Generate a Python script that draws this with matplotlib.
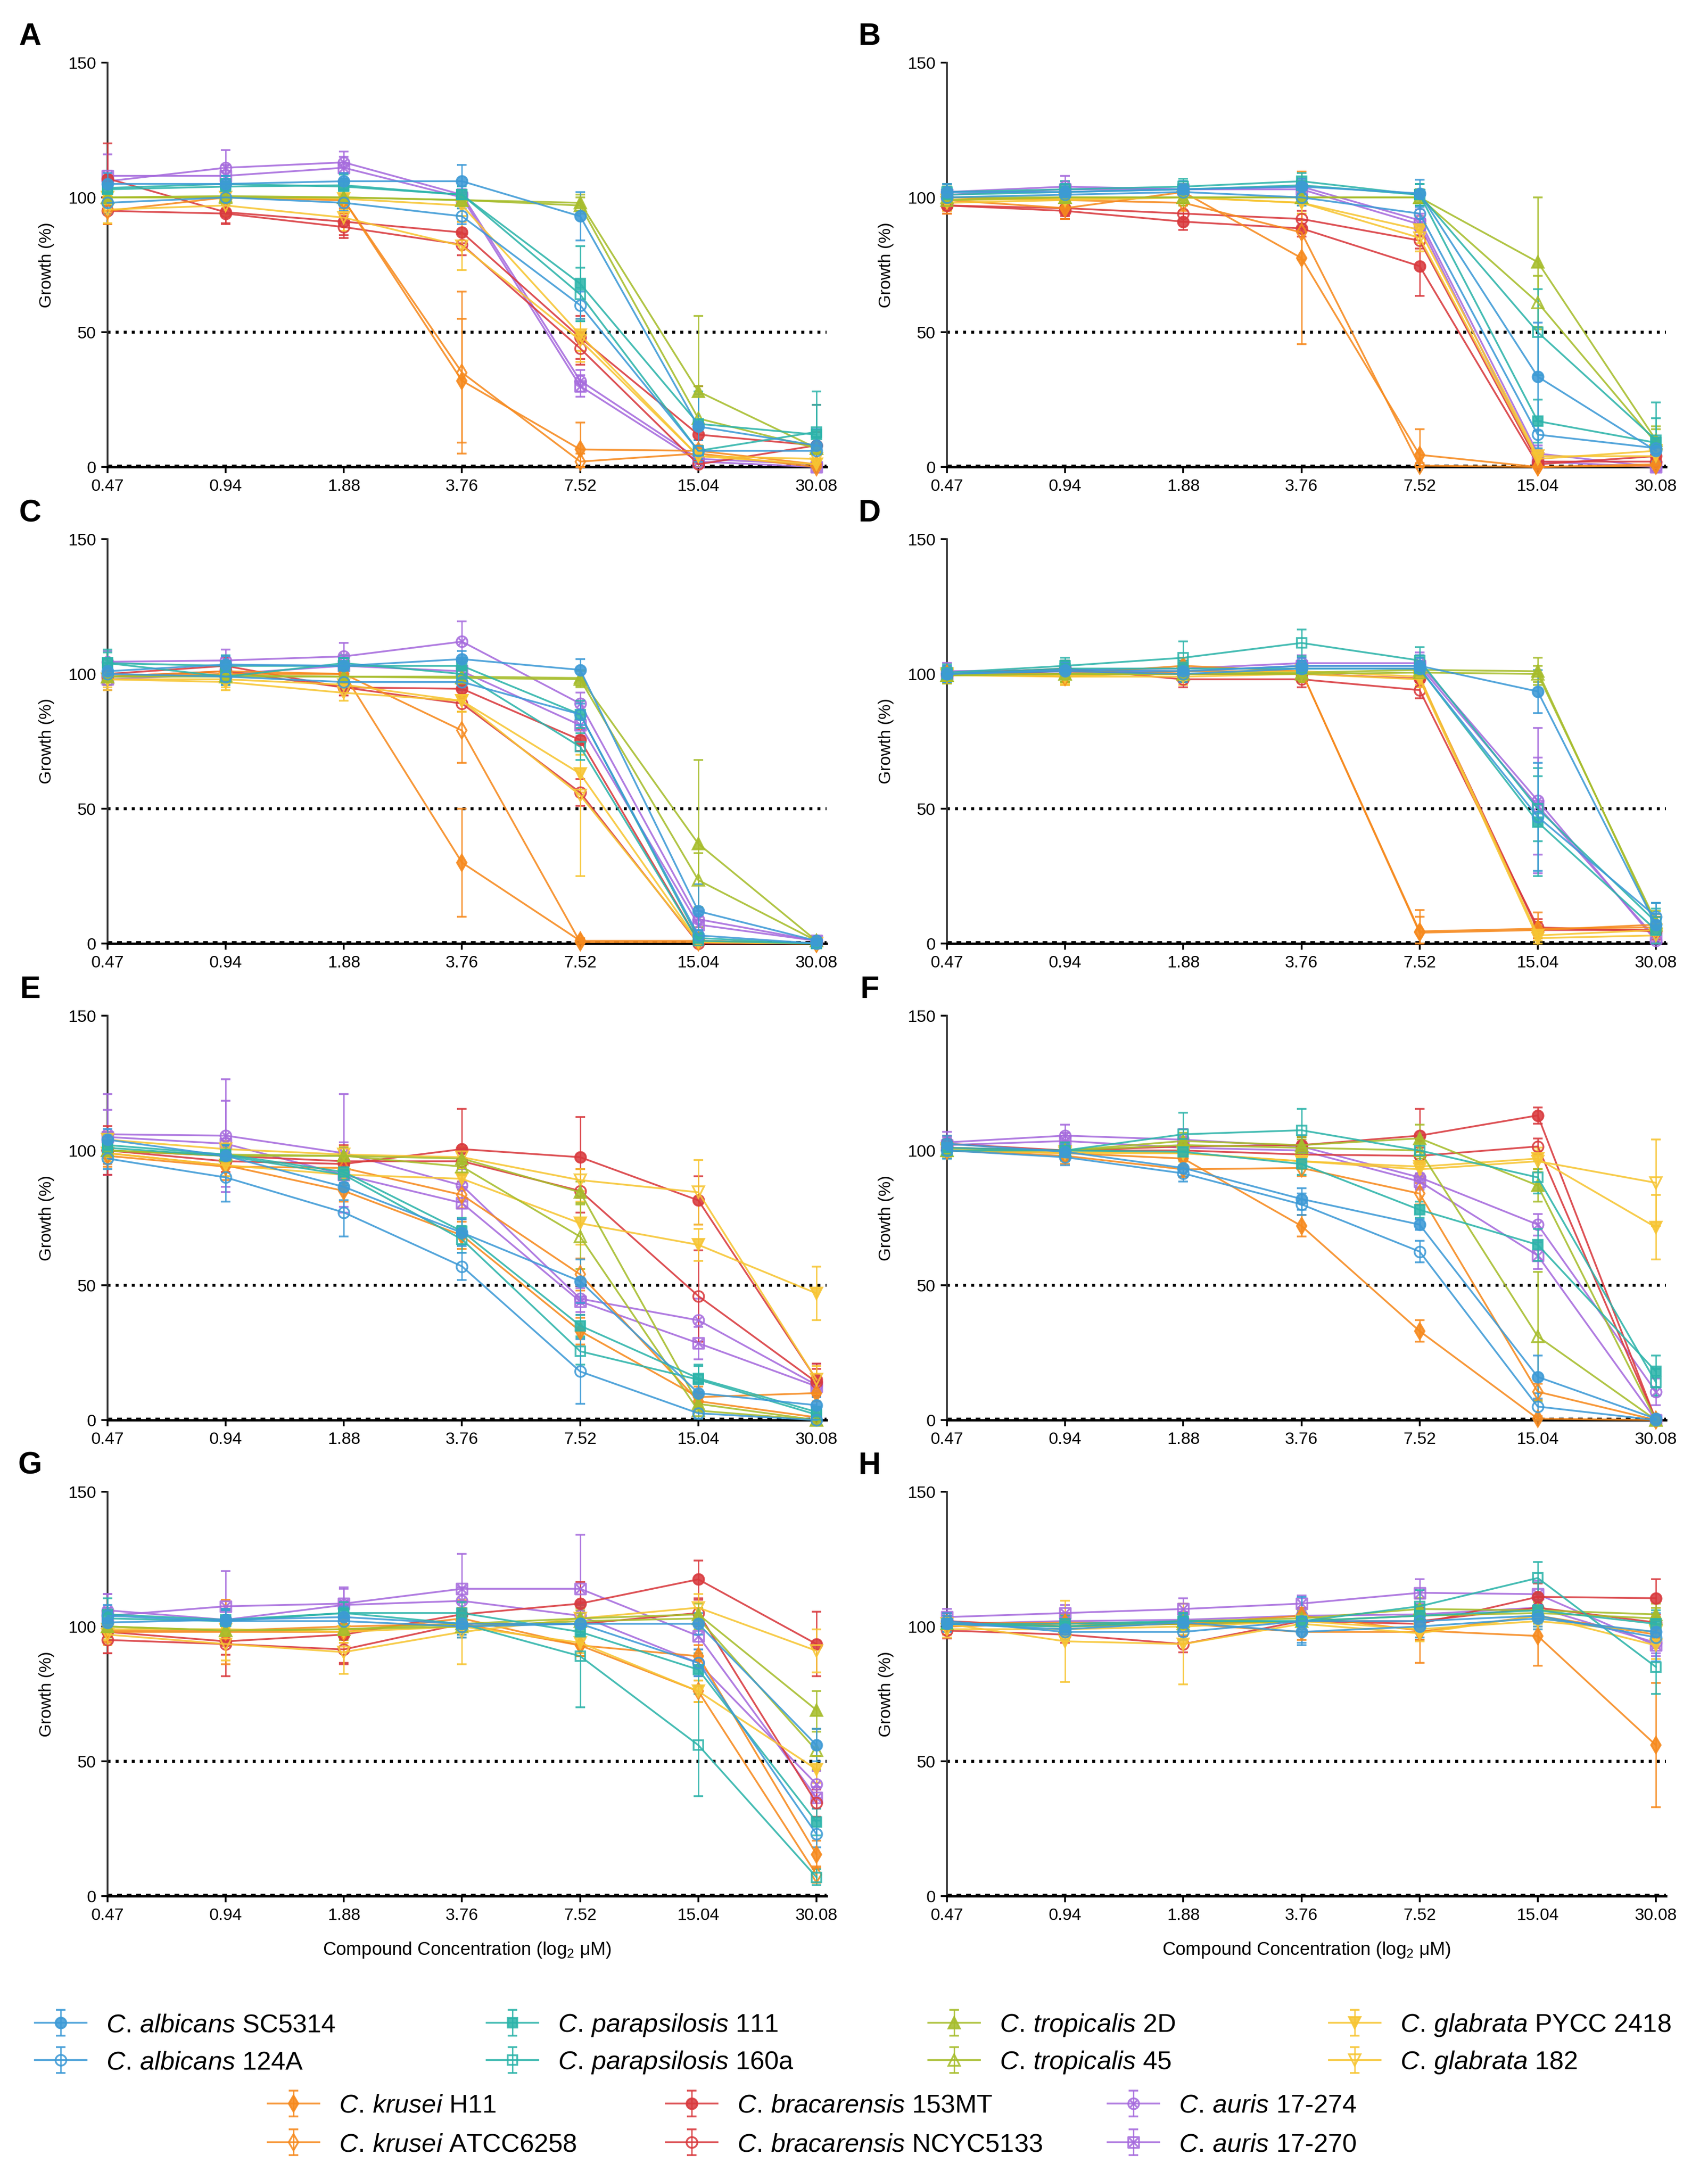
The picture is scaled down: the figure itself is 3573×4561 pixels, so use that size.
import numpy as np
import matplotlib
matplotlib.use('Agg')
import matplotlib.pyplot as plt
from matplotlib.path import Path

# ---------------- data ----------------
conc_labels = ['0.47', '0.94', '1.88', '3.76', '7.52', '15.04', '30.08']
strain_keys = ['SC5314', '124A', 'P111', 'P160a', 'T2D', 'T45', 'G2418', 'G182',
               'KH11', 'KATCC', 'B153MT', 'BNCYC', 'AU274', 'AU270']
species = ['albicans', 'albicans', 'parapsilosis', 'parapsilosis', 'tropicalis', 'tropicalis',
           'glabrata', 'glabrata', 'krusei', 'krusei', 'bracarensis', 'bracarensis', 'auris', 'auris']
strain_ids = ['SC5314', '124A', '111', '160a', '2D', '45', 'PYCC 2418', '182',
              'H11', 'ATCC6258', '153MT', 'NCYC5133', '17-274', '17-270']

growth_A = {
    'SC5314': [105, 105, 106, 106, 93, 15, 8],
    '124A': [98, 100, 98, 93, 60, 6, 6],
    'P111': [103, 104, 104.5, 101, 68, 16, 12],
    'P160a': [103.5, 105, 104, 101, 64, 6, 13],
    'T2D': [100, 100, 100, 99, 98, 28, 7],
    'T45': [100, 100.5, 100, 99, 97, 18, 7],
    'G2418': [100, 100, 99.5, 97, 49, 4, 1],
    'G182': [95.5, 97, 92.5, 82, 47, 4, 3],
    'KH11': [100, 100, 99, 32, 6.5, 6, 1],
    'KATCC': [95, 100, 99, 35, 2, 5, 0],
    'B153MT': [107, 94.5, 91, 87, 48, 12, 8],
    'BNCYC': [95, 94, 89, 82.5, 44, 1, 8],
    'AU274': [106, 111, 113, 101, 32, 3, 1],
    'AU270': [108, 108, 111, 100, 30, 2, 0],
}
err_A = {
    'SC5314': [4, 3, 3, 6, 9, 12, 6],
    '124A': [4, 3, 3, 3, 5, 4, 5],
    'P111': [5, 3, 4, 3, 14, 12, 16],
    'P160a': [4, 3, 3, 3, 10, 4, 10],
    'T2D': [3, 3, 3, 3, 3, 28, 4],
    'T45': [3, 3, 3, 3, 3, 12, 4],
    'G2418': [5, 4, 4, 4, 6, 3, 2],
    'G182': [5, 4, 5, 9, 8, 3, 2],
    'KH11': [5, 4, 5, 23, 10, 4, 1],
    'KATCC': [5, 4, 5, 30, 3, 3, 1],
    'B153MT': [13, 4, 5, 4, 8, 18, 15],
    'BNCYC': [5, 4, 4, 4, 6, 2, 5],
    'AU274': [4, 6.5, 4, 3, 4, 2, 1],
    'AU270': [8, 4, 4, 3, 4, 2, 1],
}

growth_B = {
    'SC5314': [102, 102, 103, 104, 101.5, 33.5, 6],
    '124A': [100, 101, 102, 100, 94, 12, 7],
    'P111': [101, 102, 103, 104.5, 101, 17, 9],
    'P160a': [102, 103, 104, 106, 101, 50, 10],
    'T2D': [100, 100, 100, 100, 100, 76, 10],
    'T45': [99, 100, 100, 100, 100, 61, 9],
    'G2418': [99, 99.5, 100, 98, 88, 4, 4],
    'G182': [98, 99, 100, 98, 85, 3, 6],
    'KH11': [99, 96, 102, 77.5, 4.5, 0, 0.5],
    'KATCC': [100, 99, 98, 87, 0.5, 0, 1],
    'B153MT': [97, 95, 91, 88.5, 74.5, 1, 4],
    'BNCYC': [97, 96, 94, 92, 84, 2, 2],
    'AU274': [102, 104, 103, 104, 91.5, 5, 0],
    'AU270': [101, 103, 103, 103, 90, 2, 0],
}
err_B = {
    'SC5314': [3, 3, 3, 3, 5, 20, 4],
    '124A': [3, 3, 3, 3, 4, 5, 4],
    'P111': [3, 3, 3, 3, 4, 8, 15],
    'P160a': [3, 3, 3, 3, 4, 16, 8],
    'T2D': [3, 3, 3, 3, 3, 24, 5],
    'T45': [3, 3, 3, 3, 3, 10, 5],
    'G2418': [3, 3, 3, 4, 5, 3, 3],
    'G182': [3, 3, 3, 4, 5, 3, 3],
    'KH11': [5, 4, 3, 32, 9.5, 1, 1],
    'KATCC': [5, 4, 3, 10, 1, 1, 1],
    'B153MT': [3, 3, 3, 3, 11, 2, 3],
    'BNCYC': [3, 3, 3, 3, 3, 2, 2],
    'AU274': [3, 4, 3, 3, 4, 3, 1],
    'AU270': [3, 3, 3, 3, 4, 2, 1],
}

growth_C = {
    'SC5314': [101, 103.5, 103, 105.5, 101.5, 12, 1],
    '124A': [100, 99, 97, 97, 85, 3, 0],
    'P111': [104, 103, 103, 103, 85, 2, 0],
    'P160a': [104, 99, 104, 100, 73, 1, 0],
    'T2D': [99, 99.5, 99, 99, 98.5, 37, 1],
    'T45': [99, 99, 99, 98.5, 98, 23.5, 1],
    'G2418': [98, 98, 96, 90, 63, 0.5, 0],
    'G182': [98, 97, 93, 90, 55, 0.5, 0],
    'KH11': [99, 100, 100, 30, 1, 1, 0],
    'KATCC': [99, 101, 100, 79, 0.5, 0.5, 0],
    'B153MT': [100, 103, 95, 94.5, 75.5, 1, 0],
    'BNCYC': [99, 101, 95, 89, 56, 0, 0],
    'AU274': [104.5, 105, 106.5, 112, 89, 9, 1],
    'AU270': [98, 100, 103, 101, 81, 7, 1],
}
err_C = {
    'SC5314': [3, 3, 3, 3, 4, 10, 1],
    '124A': [3, 3, 3, 3, 4, 2, 0.5],
    'P111': [5, 4, 3, 3, 5, 2, 0.5],
    'P160a': [4, 3, 3, 3, 5, 2, 0.5],
    'T2D': [3, 3, 3, 3, 3, 31, 1],
    'T45': [3, 3, 3, 3, 3, 10, 1],
    'G2418': [3, 3, 3, 4, 7, 1, 0.5],
    'G182': [4, 3, 3, 4, 30, 1, 0.5],
    'KH11': [3, 3, 3, 20, 1, 1, 0.5],
    'KATCC': [3, 3, 3, 12, 1, 1, 0.5],
    'B153MT': [3, 3, 3, 3, 4, 1, 0.5],
    'BNCYC': [3, 3, 3, 3, 5, 1, 0.5],
    'AU274': [4, 4, 5, 7.5, 4, 3, 1],
    'AU270': [4, 3, 3, 3, 4, 3, 1],
}

growth_D = {
    'SC5314': [100, 101.5, 101, 103, 103, 93.5, 7],
    '124A': [100, 101, 100, 102, 102, 47, 10],
    'P111': [100, 102, 102, 102, 102, 45, 5],
    'P160a': [100.5, 103, 106, 111.5, 105, 50, 8],
    'T2D': [99.5, 100, 100, 100.5, 101.5, 101, 7],
    'T45': [99.5, 100, 100, 100, 100.5, 100, 8],
    'G2418': [100, 99.5, 100, 101, 99, 3, 5],
    'G182': [99.5, 99, 99, 100, 98, 2, 3],
    'KH11': [100, 100, 103, 101, 4.5, 5.5, 6],
    'KATCC': [100, 99, 101, 101, 4, 5, 7],
    'B153MT': [99.5, 101, 100, 100, 98.3, 5, 5],
    'BNCYC': [100, 102, 98, 98, 94, 6, 4.5],
    'AU274': [101, 101.5, 102, 104, 104, 53, 1],
    'AU270': [100, 101, 101, 103, 103, 51, 2],
}
err_D = {
    'SC5314': [3, 3, 3, 3, 4, 8, 4],
    '124A': [3, 3, 3, 3, 4, 20, 5],
    'P111': [3, 3, 3, 3, 4, 20, 10],
    'P160a': [3, 3, 6, 5, 5, 12, 5],
    'T2D': [3, 3, 3, 3, 3, 5, 4],
    'T45': [3, 3, 3, 3, 3, 3, 4],
    'G2418': [3, 3, 3, 3, 3, 2, 3],
    'G182': [3, 3, 3, 3, 3, 2, 3],
    'KH11': [3, 3, 3, 3, 8, 6, 4],
    'KATCC': [3, 3, 3, 3, 6, 3, 3],
    'B153MT': [3, 3, 3, 3, 3, 3, 5],
    'BNCYC': [3, 3, 3, 3, 3, 3, 3],
    'AU274': [3, 3, 3, 3, 4, 27, 2],
    'AU270': [3, 3, 3, 3, 4, 18, 2],
}

growth_E = {
    'SC5314': [104, 98, 86.5, 69.5, 51.5, 10, 5.5],
    '124A': [97, 90, 77, 57, 18, 2.5, 0],
    'P111': [102, 98.5, 92, 70, 35, 15.5, 3],
    'P160a': [101, 98, 91, 67, 25.5, 15, 2],
    'T2D': [100, 98, 98, 97, 84.5, 6, 0],
    'T45': [100, 98.5, 98, 94, 68, 3.5, 0],
    'G2418': [99, 94.5, 91, 89.5, 73, 65, 47],
    'G182': [104, 100.5, 98.5, 97.5, 89, 84.5, 15],
    'KH11': [99, 94.5, 85, 68.5, 33, 8.5, 10],
    'KATCC': [98, 94, 93.5, 83.5, 54, 7, 1],
    'B153MT': [100, 96, 95, 100.5, 97.5, 81.5, 15],
    'BNCYC': [100, 98, 96, 96, 85, 46, 14],
    'AU274': [106, 105.5, 99, 87, 45, 37, 13],
    'AU270': [105, 102.5, 91, 80.5, 44, 28.5, 12.5],
}
err_E = {
    'SC5314': [4, 4, 5, 5, 8, 4, 3],
    '124A': [4, 9, 9, 5, 12, 2, 1],
    'P111': [4, 4, 4, 5, 4, 5, 2],
    'P160a': [4, 4, 4, 5, 5, 5, 2],
    'T2D': [3, 3, 3, 3, 4, 3, 1],
    'T45': [3, 3, 3, 3, 12, 3, 1],
    'G2418': [3, 4, 4, 4, 8, 6, 10],
    'G182': [3, 3, 3, 4, 4, 12, 5],
    'KH11': [4, 4, 4, 5, 5, 4, 3],
    'KATCC': [4, 5, 4, 5, 6, 3, 1],
    'B153MT': [9, 4, 4, 15, 15, 9, 6],
    'BNCYC': [4, 4, 6, 5, 8, 17, 5],
    'AU274': [15, 21, 22, 6, 5, 8, 8],
    'AU270': [10, 16, 12, 6, 5, 6, 4],
}

growth_F = {
    'SC5314': [102.5, 99.5, 93.5, 82, 72.5, 16, 0.5],
    '124A': [100, 97.5, 91.5, 80, 62.5, 5, 0],
    'P111': [101, 100, 99.5, 95, 78, 65, 18],
    'P160a': [100, 100, 106, 107.5, 100, 90, 14],
    'T2D': [100, 100, 103.5, 102, 104.5, 87, 0],
    'T45': [100, 100, 102, 101, 100, 31, 0],
    'G2418': [100.5, 99.5, 99, 96, 94, 97, 71.5],
    'G182': [100, 99, 99, 96, 93, 96, 88],
    'KH11': [100, 99, 97, 72, 33, 0.5, 0],
    'KATCC': [100, 98, 93, 93.5, 84, 10.5, 0],
    'B153MT': [102.5, 100, 101.5, 102, 105.5, 113, 0],
    'BNCYC': [101, 100, 100, 98.5, 98, 101.5, 0],
    'AU274': [103, 105.5, 104, 101.5, 90, 72.5, 10.5],
    'AU270': [102, 103.5, 101, 100, 88.5, 61, 0],
}
err_F = {
    'SC5314': [3, 3, 3, 4, 2, 8, 1],
    '124A': [3, 3, 3, 4, 4, 5, 1],
    'P111': [3, 3, 3, 4, 3, 6, 6],
    'P160a': [3, 3, 8, 8, 4, 6, 5],
    'T2D': [3, 3, 3, 3, 5, 6, 1],
    'T45': [3, 3, 3, 3, 3, 24, 1],
    'G2418': [3, 3, 3, 3, 3, 4, 12],
    'G182': [3, 3, 3, 3, 3, 4, 16],
    'KH11': [3, 3, 3, 4, 4, 1, 0.5],
    'KATCC': [3, 3, 3, 3, 4, 3, 0.5],
    'B153MT': [3, 3, 3, 3, 10, 3, 1],
    'BNCYC': [3, 3, 3, 3, 3, 3, 1],
    'AU274': [4, 4, 4, 4, 4, 4, 5],
    'AU270': [3, 3, 3, 3, 3, 5, 1],
}

growth_G = {
    'SC5314': [101.5, 102.5, 103.5, 101, 101, 101, 56],
    '124A': [104, 102, 102, 100, 101, 86.5, 23],
    'P111': [104.5, 102.5, 105, 105, 98, 84, 27.5],
    'P160a': [103, 102, 105, 101, 89, 56, 7],
    'T2D': [100, 98.5, 99, 101, 103, 104.5, 69],
    'T45': [100, 98.5, 99, 100, 102, 103, 54],
    'G2418': [99, 99, 98, 100, 94, 76, 47],
    'G182': [97, 93.5, 90.5, 98, 103, 107, 91],
    'KH11': [98.5, 98.5, 100, 101, 93, 89, 15.5],
    'KATCC': [98, 98, 98, 103, 93, 76, 8],
    'B153MT': [98, 94.5, 97, 104.5, 108.5, 117.5, 93.5],
    'BNCYC': [95, 93.5, 91.5, 101, 101, 105, 34.5],
    'AU274': [106, 102.5, 108, 109.5, 104, 86.5, 41.5],
    'AU270': [104, 107.5, 108.5, 114, 114, 96.5, 36.5],
}
err_G = {
    'SC5314': [4, 4, 4, 4, 4, 4, 6],
    '124A': [4, 4, 4, 4, 4, 5, 5],
    'P111': [6, 4, 4, 4, 5, 6, 5],
    'P160a': [4, 4, 4, 4, 19, 19, 3],
    'T2D': [4, 4, 4, 4, 4, 4, 7],
    'T45': [4, 4, 4, 4, 4, 4, 7],
    'G2418': [4, 4, 4, 4, 4, 4, 5],
    'G182': [4, 6, 8, 12, 4, 5, 8],
    'KH11': [4, 4, 4, 4, 4, 4, 5],
    'KATCC': [4, 12, 4, 4, 4, 4, 3],
    'B153MT': [8, 13, 11, 5, 8, 7, 12],
    'BNCYC': [5, 4, 5, 5, 4, 5, 5],
    'AU274': [6, 4, 6, 5, 5, 5, 5],
    'AU270': [8, 13, 6, 13, 20, 5, 4],
}

growth_H = {
    'SC5314': [101, 99, 101.5, 98, 100, 103, 98],
    '124A': [102, 98, 98, 102, 102, 104, 96],
    'P111': [101, 101, 102, 102, 104, 106, 101],
    'P160a': [101, 100, 102, 102, 107.5, 118, 85],
    'T2D': [101, 100, 102, 103, 106.5, 106, 104.5],
    'T45': [101, 100, 101, 102, 104, 105, 103],
    'G2418': [101, 94.5, 93.5, 101, 97.5, 104, 93],
    'G182': [99, 99, 100, 102, 99, 102, 98],
    'KH11': [101, 101.5, 101, 104, 98.5, 96.5, 56],
    'KATCC': [100, 101, 101, 98, 98, 104, 97],
    'B153MT': [102, 100, 101, 102, 101, 111, 110.5],
    'BNCYC': [98.5, 97, 93.5, 102, 102, 107, 101.5],
    'AU274': [101, 102, 102.5, 104, 104.5, 107, 94],
    'AU270': [103.5, 105, 106.5, 108.5, 112.5, 112, 93],
}
err_H = {
    'SC5314': [3, 3, 3, 4, 4, 4, 4],
    '124A': [3, 3, 3, 9, 4, 4, 9],
    'P111': [3, 3, 3, 3, 4, 4, 5],
    'P160a': [3, 3, 3, 3, 6, 6, 10],
    'T2D': [3, 3, 3, 3, 4, 4, 4],
    'T45': [3, 3, 3, 3, 4, 4, 4],
    'G2418': [3, 15, 15, 3, 3, 4, 5],
    'G182': [3, 3, 3, 3, 3, 3, 3],
    'KH11': [3, 3, 3, 3, 12, 11, 23],
    'KATCC': [3, 3, 3, 3, 3, 3, 3],
    'B153MT': [3, 3, 3, 3, 6, 5, 7],
    'BNCYC': [3, 3, 3, 3, 3, 3, 3],
    'AU274': [3, 3, 3, 3, 4, 4, 4],
    'AU270': [3, 3, 4, 3, 5, 5, 4],
}

panel_letters = ['A', 'B', 'C', 'D', 'E', 'F', 'G', 'H']
panel_growth = [growth_A, growth_B, growth_C, growth_D, growth_E, growth_F, growth_G, growth_H]
panel_err = [err_A, err_B, err_C, err_D, err_E, err_F, err_G, err_H]

# ---------------- style ----------------
plt.rcParams['font.family'] = ['Liberation Sans', 'DejaVu Sans']
plt.rcParams['mathtext.fontset'] = 'custom'
plt.rcParams['mathtext.rm'] = 'Liberation Sans'
plt.rcParams['mathtext.it'] = 'Liberation Sans:italic'
plt.rcParams['mathtext.bf'] = 'Liberation Sans:bold'

species_color = {
    'albicans': '#3D9AD6', 'parapsilosis': '#2DB4AA', 'tropicalis': '#A7BD2C',
    'glabrata': '#F7C533', 'krusei': '#F68A1E', 'bracarensis': '#D93A3E', 'auris': '#A66BDD',
}

_s = np.sqrt(0.5)
_xcodes = [Path.MOVETO, Path.LINETO, Path.MOVETO, Path.LINETO]
circle_x = Path.make_compound_path(
    Path.unit_circle(),
    Path([(-_s, -_s), (_s, _s), (-_s, _s), (_s, -_s)], _xcodes))
square_x = Path.make_compound_path(
    Path([(-1, -1), (1, -1), (1, 1), (-1, 1), (-1, -1)],
         [Path.MOVETO, Path.LINETO, Path.LINETO, Path.LINETO, Path.CLOSEPOLY]),
    Path([(-1, -1), (1, 1), (-1, 1), (1, -1)], _xcodes))

species_marker = {'albicans': 'o', 'parapsilosis': 's', 'tropicalis': '^', 'glabrata': 'v',
                  'krusei': 'd', 'bracarensis': 'o'}
marker_size = {'albicans': 5.4, 'parapsilosis': 4.8, 'tropicalis': 5.6, 'glabrata': 5.6,
               'krusei': 5.8, 'bracarensis': 5.4, 'auris': 5.4}

W, H, DPI = 3573, 4561, 300
fig = plt.figure(figsize=(W / DPI, H / DPI), dpi=DPI)

col_left_px = [225, 1981]
col_w_px = 1504
row_top_px = [131, 1128, 2125, 3121]
row_h_px = 846

x = np.arange(len(conc_labels))
legend_handles = {}

for i, letter in enumerate(panel_letters):
    r, c = divmod(i, 2)
    left = col_left_px[c] / W
    bottom = 1 - (row_top_px[r] + row_h_px) / H
    ax = fig.add_axes([left, bottom, col_w_px / W, row_h_px / H])
    g = panel_growth[i]
    e = panel_err[i]
    for j in range(len(strain_keys) - 1, -1, -1):
        k = strain_keys[j]
        sp = species[j]
        col = species_color[sp]
        filled = (j % 2 == 0)
        if sp == 'auris':
            mk = circle_x if filled else square_x
            mfc = 'none'
        else:
            mk = species_marker[sp]
            mfc = col if filled else 'none'
        y = np.array(g[k], dtype=float)
        ee = np.array(e[k], dtype=float)
        lower = np.minimum(ee, y)
        cont = ax.errorbar(x, y, yerr=[lower, ee], color=col, marker=mk,
                           ms=marker_size[sp], mfc=mfc, mec=col, mew=0.9,
                           lw=0.9, elinewidth=0.7, capsize=2.4, capthick=0.7,
                           alpha=0.88, zorder=3 + (len(strain_keys) - j) * 0.01)
        cont[0].set_clip_on(False)
        for a in cont[1]:
            a.set_clip_on(False)
        for a in cont[2]:
            a.set_clip_on(False)
        if i == 0:
            legend_handles[k] = cont

    ax.set_xlim(0, 6 * col_w_px / (1708 - 225))
    ax.set_ylim(0, 150)
    ax.axhline(50, color='black', ls=(0, (1, 1.7)), lw=1.5, zorder=2)
    ax.axhline(0, color='black', ls=(0, (1, 1.0)), lw=2.4, zorder=2.5)
    for sname in ['top', 'right']:
        ax.spines[sname].set_visible(False)
    ax.spines['left'].set_linewidth(0.9)
    ax.spines['left'].set_color('#333333')
    ax.spines['bottom'].set_linewidth(1.2)
    ax.set_xticks(x)
    ax.set_xticklabels(conc_labels)
    ax.set_yticks([0, 50, 100, 150])
    ax.tick_params(axis='both', direction='out', length=3.2, width=0.9, labelsize=8.5,
                   pad=2.5, colors='black')
    ax.text(-0.085, 0.5, 'Growth (%)', transform=ax.transAxes, rotation=90,
            ha='center', va='center', fontsize=8.5)
    if r == 3:
        ax.text(0.5, -0.133, r'Compound Concentration (log$_2$ μM)', transform=ax.transAxes,
                ha='center', va='center', fontsize=9.2)
    fig.text((col_left_px[c] - 162) / W, 1 - (row_top_px[r] - 54) / H, letter,
             fontsize=15.5, fontweight='bold', ha='center', va='center')

# ---------------- legend ----------------
leg_group1 = [[('SC5314', 0), ('124A', 1)], [('P111', 2), ('P160a', 3)],
              [('T2D', 4), ('T45', 5)], [('G2418', 6), ('G182', 7)]]
leg_group2 = [[('KH11', 8), ('KATCC', 9)], [('B153MT', 10), ('BNCYC', 11)],
              [('AU274', 12), ('AU270', 13)]]
g1_x = [73, 1018, 1942, 2780]
g2_x = [560, 1393, 2317]
g1_y = [4237, 4315]
g2_y = [4406, 4487]


def label_for(j):
    sp = species[j]
    return r'$\mathit{C.\,' + sp + r'}$ ' + strain_ids[j]


def add_entry(k, j, xpx, ypx):
    fig.legend(handles=[legend_handles[k]], labels=[label_for(j)], loc='center left',
               bbox_to_anchor=(xpx / W, 1 - ypx / H), bbox_transform=fig.transFigure,
               frameon=False, borderpad=0, borderaxespad=0, handlelength=2.0,
               handletextpad=0.75, fontsize=13)


for ci, colent in enumerate(leg_group1):
    for ri, (k, j) in enumerate(colent):
        add_entry(k, j, g1_x[ci], g1_y[ri])
for ci, colent in enumerate(leg_group2):
    for ri, (k, j) in enumerate(colent):
        add_entry(k, j, g2_x[ci], g2_y[ri])

fig.savefig('out.png', dpi=DPI)
